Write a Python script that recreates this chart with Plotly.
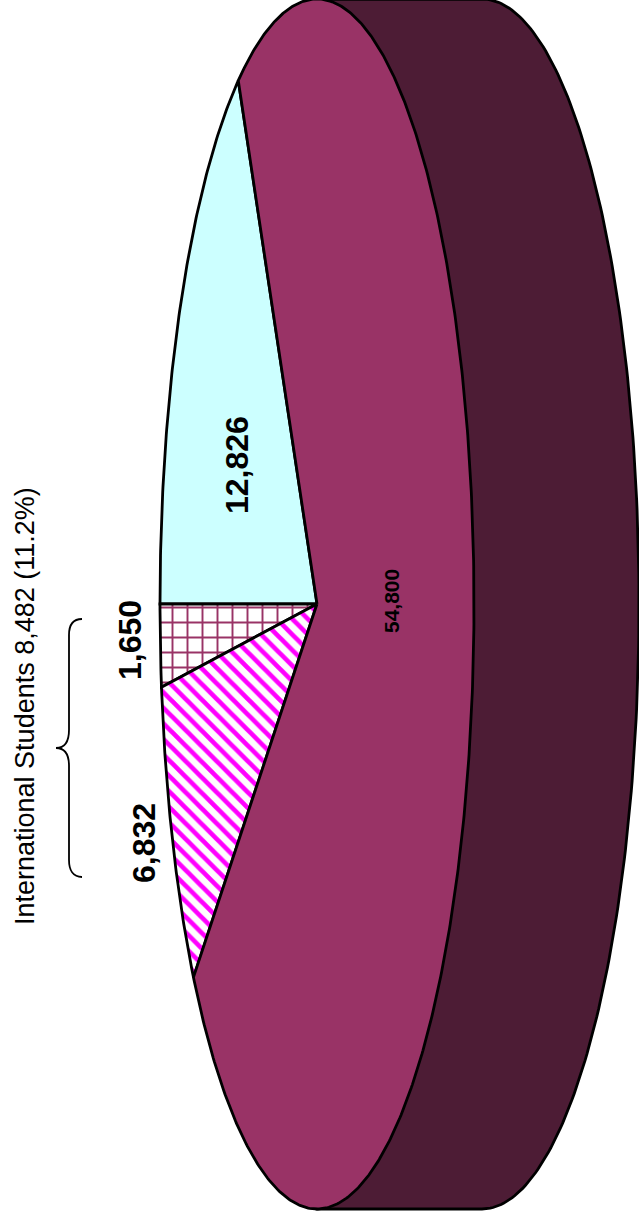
import numpy as np
import plotly.graph_objects as go

# Printed figures, as labelled on the chart
slice_labels = [12826, 1650, 6832, 54800]
# Slice sizes as actually drawn, estimated from the slice edges in the picture
# (the drawn wedges are not exactly proportional to the printed figures)
slice_drawn = [12664, 1670, 6385, 55389]
slice_names = ["Slice 12,826", "Slice 1,650", "Slice 6,832", "Slice 54,800"]
slice_fill = ["#CCFFFF", "#FFFFFF", "#FFFFFF", "#993366"]
bracket_label = "International Students 8,482 (11.2%)"

W, H = 639, 1218
CX, CY, RX, RY = 317.0, 604.0, 157.0, 605.0
DEPTH = 165.0
WALL = "#4D1C35"
EDGE = dict(color="#000000", width=2.8)
patterns = [None,
            dict(shape="+", fgcolor="#993366", bgcolor="#FFFFFF", fgopacity=1, size=15, solidity=0.24),
            dict(shape="\\", fgcolor="#FF00FF", bgcolor="#FFFFFF", fgopacity=1, size=11, solidity=0.42),
            None]

fig = go.Figure()

# side wall of the cake
phi = np.radians(np.linspace(-90, 90, 181))
wx = np.r_[CX, CX + DEPTH + RX * np.cos(phi), CX]
wy = np.r_[CY - RY, CY + RY * np.sin(phi), CY + RY]
fig.add_trace(go.Scatter(x=np.r_[wx, wx[0]], y=np.r_[wy, wy[0]], mode="lines", fill="toself",
                         fillcolor=WALL, line=EDGE, hoverinfo="skip", showlegend=False))

# slices
total = sum(slice_drawn)
start = -360.0 * slice_drawn[0] / total
for name, val, col, pat in zip(slice_names, slice_drawn, slice_fill, patterns):
    sweep = 360.0 * val / total
    a = np.radians(np.linspace(start, start + sweep, max(int(sweep * 2), 2)))
    x = np.r_[CX, CX - RX * np.cos(a), CX]
    y = np.r_[CY, CY + RY * np.sin(a), CY]
    kw = dict(fillpattern=pat) if pat else {}
    fig.add_trace(go.Scatter(x=x, y=y, mode="lines", fill="toself", fillcolor=col, line=EDGE,
                             name=name, hoverinfo="skip", showlegend=False, **kw))
    start += sweep

# labels
label_pos = [(237, 465, 32), (130, 640, 32), (144, 843, 32), (391, 601, 21)]
annotations = [dict(x=px, y=py, text="<b>%s</b>" % format(v, ","), showarrow=False, textangle=-90,
                    xanchor="center", yanchor="middle",
                    font=dict(family="Liberation Sans", size=fs, color="#000000"))
               for v, (px, py, fs) in zip(slice_labels, label_pos)]
annotations.append(dict(x=25, y=706, text=bracket_label, showarrow=False, textangle=-90,
                        xanchor="center", yanchor="middle",
                        font=dict(family="Liberation Sans", size=27, color="#000000")))

brace = ("M 82 619 C 73 619 69 625 69 635 L 69 730 C 69 742 65 748 56 748 "
         "C 65 748 69 754 69 766 L 69 860 C 69 870 73 877 82 877")

fig.update_layout(
    width=W, height=H, margin=dict(l=0, r=0, t=0, b=0),
    paper_bgcolor="#FFFFFF", plot_bgcolor="#FFFFFF", showlegend=False,
    xaxis=dict(range=[0, W], visible=False, fixedrange=True),
    yaxis=dict(range=[H, 0], visible=False, fixedrange=True),
    annotations=annotations,
    shapes=[dict(type="path", path=brace, xref="x", yref="y",
                 line=dict(color="#000000", width=1.8), fillcolor="rgba(0,0,0,0)")],
)
fig.write_html("out.html", include_plotlyjs=True, config={"displayModeBar": False},
               post_script="document.body.style.margin='0';document.body.style.overflow='hidden';")
